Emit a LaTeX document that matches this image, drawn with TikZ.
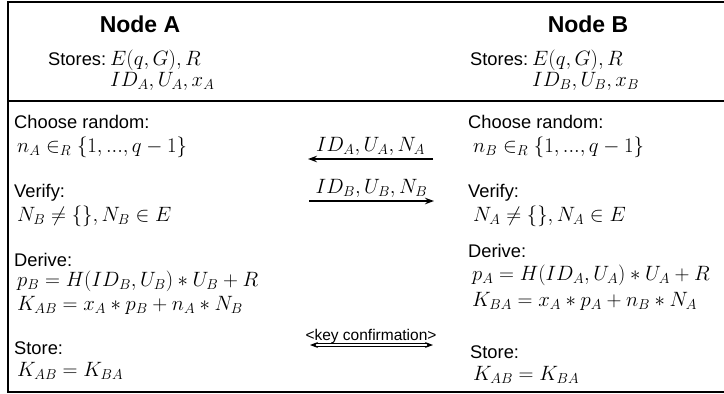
\documentclass[tikz,border=0pt]{standalone}
\usepackage{fontspec}
\setmainfont{Liberation Sans}
\usetikzlibrary{arrows.meta}
\begin{document}
\begin{tikzpicture}[x=1pt,y=-1pt,
  lbl/.style={anchor=base west, inner sep=0pt, font=\fontsize{18.3}{22}\selectfont},
  mth/.style={anchor=base west, inner sep=0pt, font=\fontsize{19.5}{22}\selectfont},
  ttl/.style={anchor=base, inner sep=0pt, font=\fontsize{23}{27}\selectfont\bfseries},
  msg/.style={-{Stealth[length=9pt,width=6.5pt]}, line width=1.3pt},
  msglbl/.style={above, inner sep=3pt, font=\fontsize{20.4}{24}\selectfont},
  frame/.style={line width=1.8pt}]
\useasboundingbox (0,0) rectangle (724,394);
\draw[frame] (727,2) -- (8,2) -- (8,392) -- (727,392);
\draw[frame] (8,101) -- (727,101);
% headers
\node[ttl] (ta) at (140,32) {Node A};
\node[ttl] (tb) at (588,32) {Node B};
\node[lbl] (sa) at (48,65) {Stores:};
\node[mth] (sa1) at (110,65) {$E(q,G),R$};
\node[mth] (sa2) at (110,86) {$ID_A,U_A,x_A$};
\node[lbl] (sb) at (470,65) {Stores:};
\node[mth] (sb1) at (532,65) {$E(q,G),R$};
\node[mth] (sb2) at (532,86) {$ID_B,U_B,x_B$};
% left column
\node[lbl] (cra) at (14,128) {Choose random:};
\node[mth] (na) at (17,152) {$n_A \in_R \{1,...,q-1\}$};
\node[lbl] (vea) at (14,197) {Verify:};
\node[mth] (vna) at (17,221) {$N_B \neq \{\}, N_B \in E$};
\node[lbl] (dea) at (14,266) {Derive:};
\node[mth] (pa) at (17,286) {$p_B = H(ID_B,U_B) * U_B + R$};
\node[mth] (ka) at (17,310) {$K_{AB} = x_A * p_B + n_A * N_B$};
\node[lbl] (sta) at (14,354) {Store:};
\node[mth] (kka) at (17,376) {$K_{AB} = K_{BA}$};
% right column
\node[lbl] (crb) at (468,128) {Choose random:};
\node[mth] (nb) at (473,152) {$n_B \in_R \{1,...,q-1\}$};
\node[lbl] (veb) at (468,197) {Verify:};
\node[mth] (vnb) at (473,221) {$N_A \neq \{\}, N_A \in E$};
\node[lbl] (deb) at (468,257) {Derive:};
\node[mth] (pb) at (472,280) {$p_A = H(ID_A,U_A) * U_A + R$};
\node[mth] (kb) at (472,306) {$K_{BA} = x_A * p_A + n_B * N_A$};
\node[lbl] (stb) at (470,358) {Store:};
\node[mth] (kkb) at (473,380) {$K_{AB} = K_{BA}$};
% messages
\coordinate (m1r) at (433,159);
\coordinate (m1l) at (308,159);
\draw[msg] (m1r) -- node[msglbl] (l1) {$ID_A,U_A,N_A$} (m1l);
\coordinate (m2l) at (309,201);
\coordinate (m2r) at (434,201);
\draw[msg] (m2l) -- node[msglbl] (l2) {$ID_B,U_B,N_B$} (m2r);
% key confirmation
\node[anchor=base, inner sep=0pt, font=\fontsize{15.5}{18}\selectfont] (kc) at (371,340) {<key confirmation>};
\coordinate (k1) at (310,345);
\coordinate (k2) at (433,345);
\draw[double, double distance=1.3pt, line width=1pt, {Stealth[length=8pt,width=6pt]}-{Stealth[length=8pt,width=6pt]}] (k1) -- (k2);
\end{tikzpicture}
\end{document}
